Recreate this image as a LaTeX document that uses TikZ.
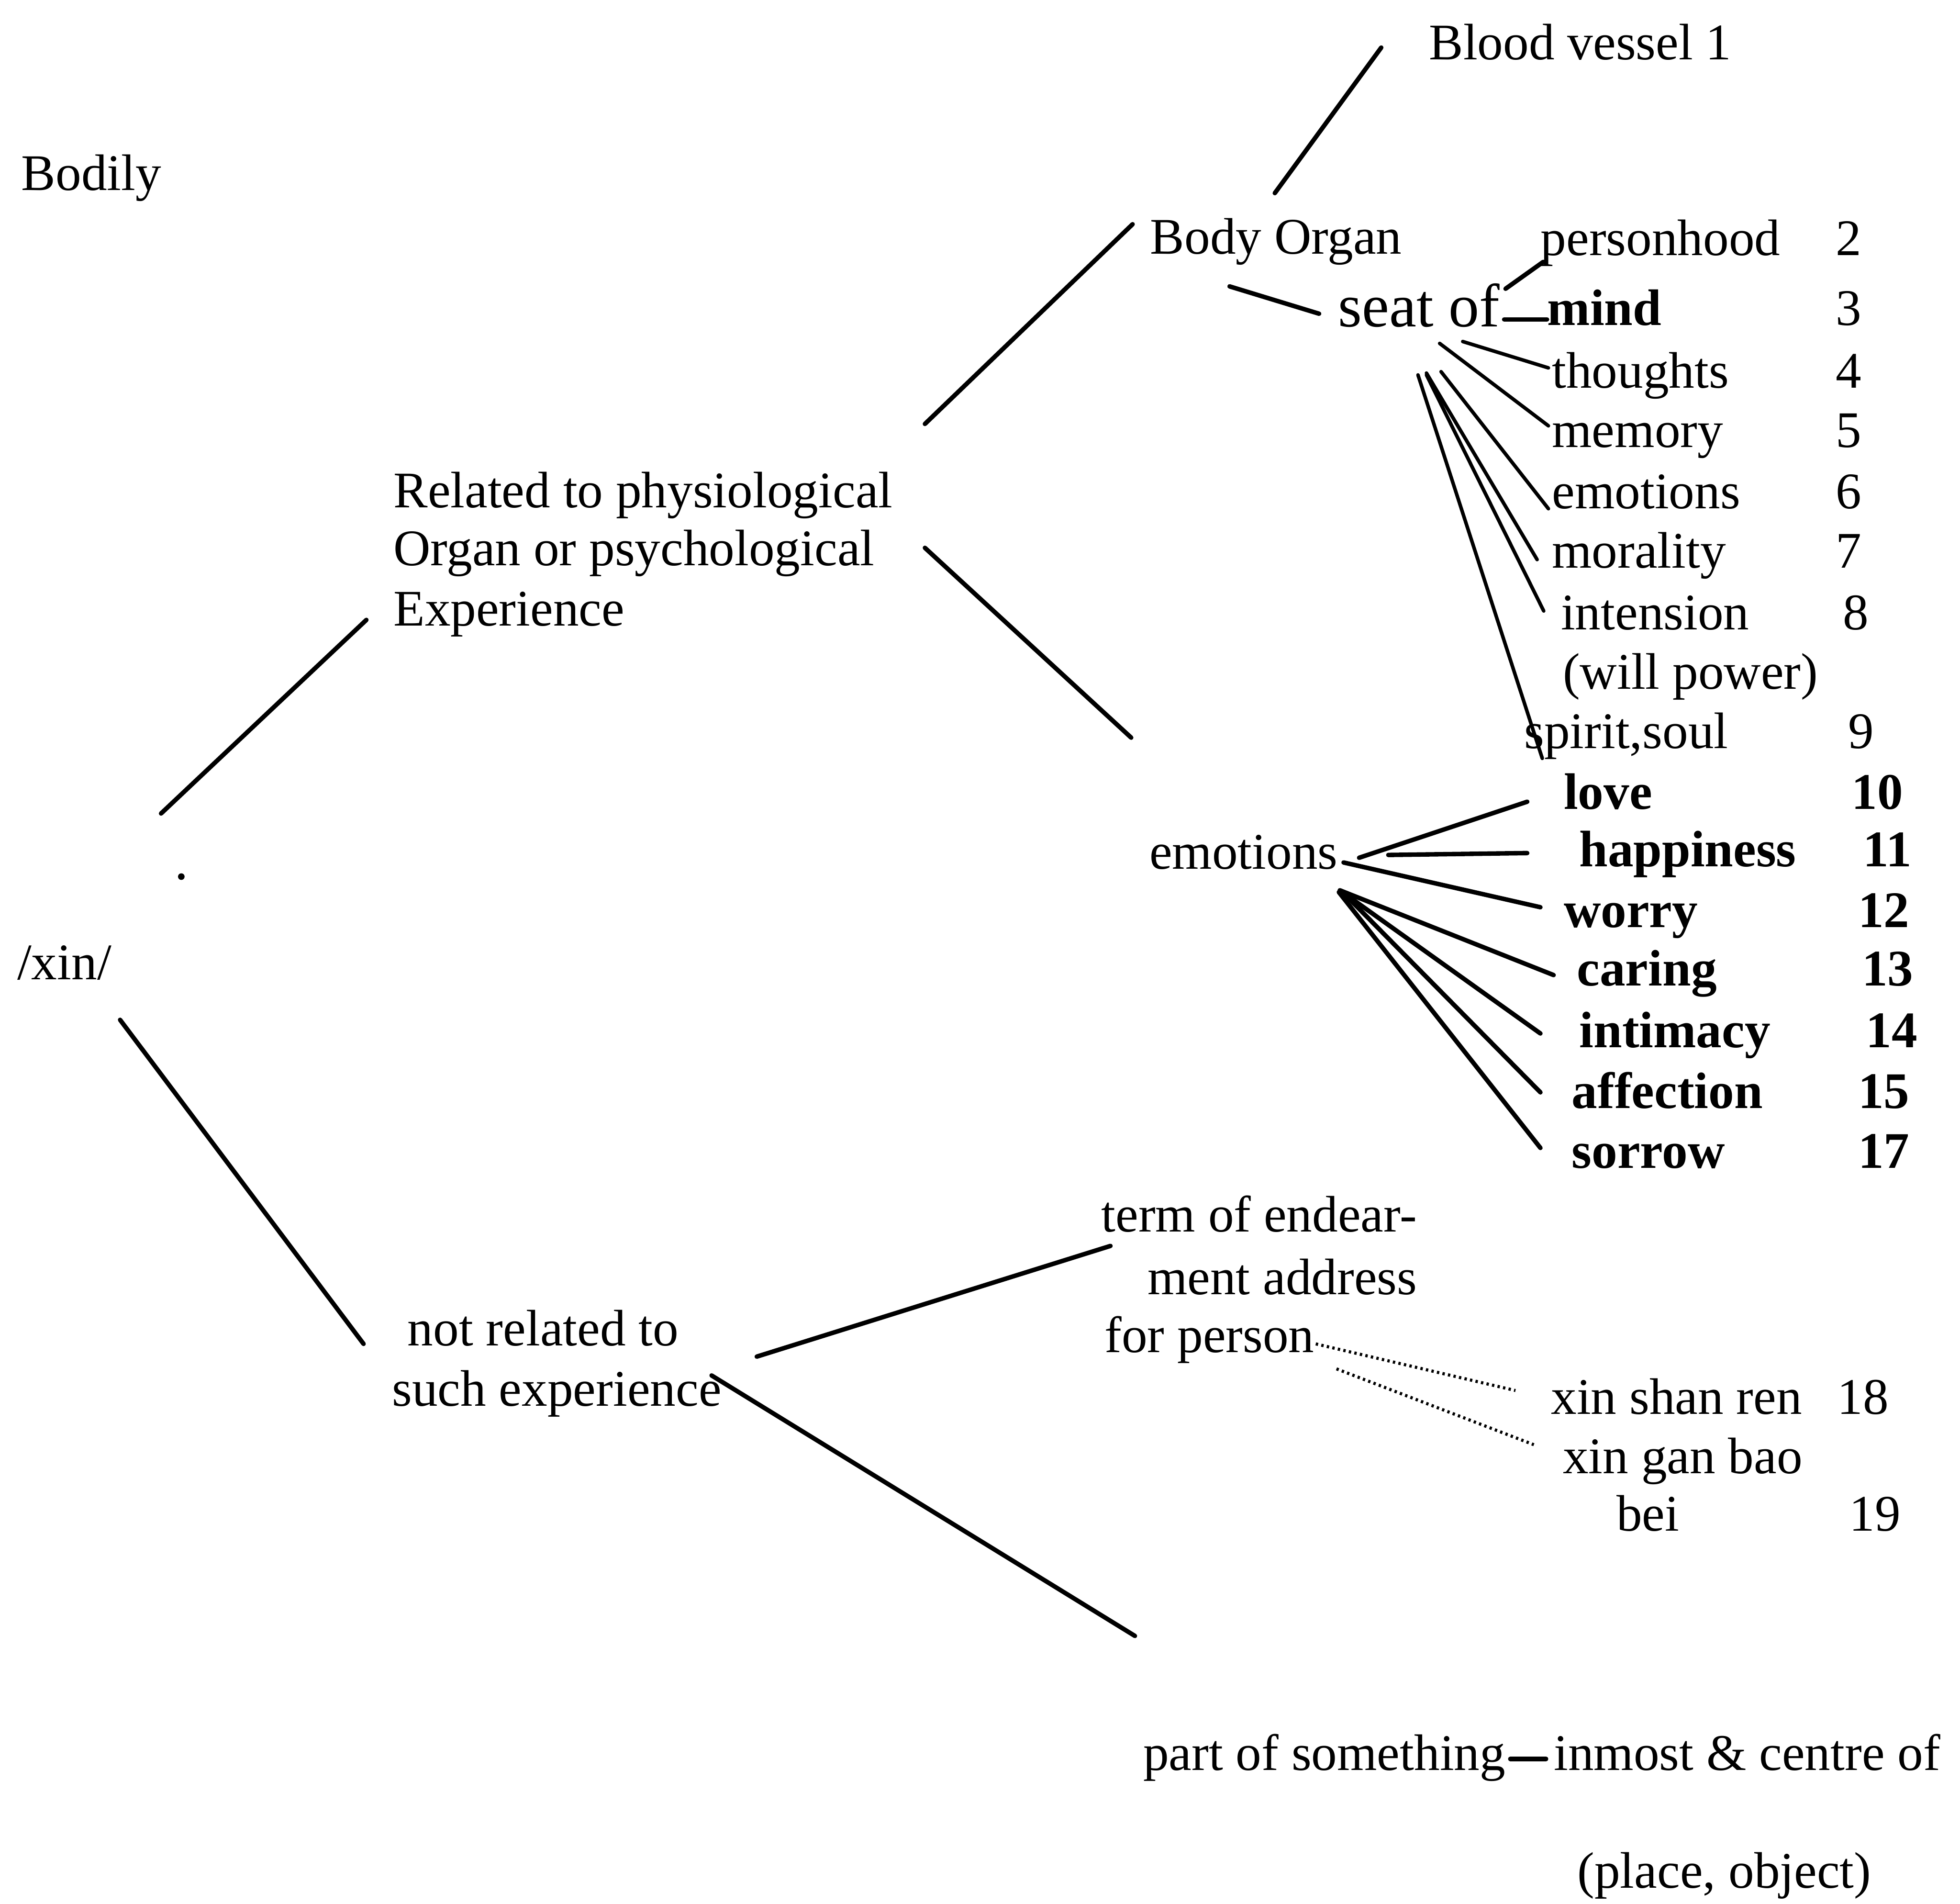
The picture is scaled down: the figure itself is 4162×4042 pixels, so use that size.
\documentclass[tikz,border=0pt]{standalone}
\usepackage{fontspec}
\setmainfont{Liberation Serif}
\begin{document}
\begin{tikzpicture}[x=0.01cm, y=-0.01cm,
  txt/.style={anchor=base west, inner sep=0pt, font=\fontsize{31}{36}\selectfont},
  btxt/.style={anchor=base west, inner sep=0pt, font=\fontsize{31}{36}\selectfont\bfseries},
  bigtxt/.style={anchor=base west, inner sep=0pt, font=\fontsize{37}{42}\selectfont},
  conn/.style={line width=0.095cm, line cap=round},
  fanconn/.style={line width=0.075cm, line cap=round},
  dotconn/.style={line width=0.065cm, dash pattern=on 0.05cm off 0.07cm}]
\useasboundingbox (0,0) rectangle (4162,4042);

% ---- text ----
\node[txt] (bv) at (3034,126) {Blood vessel 1};
\node[txt] (bodily) at (45,404) {Bodily};
\node[txt] (bo) at (2442,539) {Body Organ};
\node[txt] (ph) at (3271,542) {personhood};
\node[txt] (n2) at (3898,542) {2};
\node[bigtxt] (seat) at (2841,693) {seat of};
\node[btxt] (mind) at (3285,690) {mind};
\node[txt] (n3) at (3898,690) {3};
\node[txt] (thoughts) at (3295,824) {thoughts};
\node[txt] (n4) at (3898,824) {4};
\node[txt] (memory) at (3295,950) {memory};
\node[txt] (n5) at (3898,950) {5};
\node[txt] (emosix) at (3295,1080) {emotions};
\node[txt] (n6) at (3898,1080) {6};
\node[txt] (morality) at (3295,1206) {morality};
\node[txt] (n7) at (3898,1206) {7};
\node[txt] (intension) at (3314,1337) {intension};
\node[txt] (n8) at (3913,1337) {8};
\node[txt] (willpower) at (3318,1463) {(will power)};
\node[txt] (spirit) at (3236,1589) {spirit,soul};
\node[txt] (n9) at (3924,1589) {9};

\node[btxt] (love) at (3320,1718) {love};
\node[btxt] (n10) at (3931,1718) {10};
\node[btxt] (happiness) at (3353,1840) {happiness};
\node[btxt] (n11) at (3956,1840) {11};
\node[btxt] (worry) at (3320,1969) {worry};
\node[btxt] (n12) at (3945,1969) {12};
\node[btxt] (caring) at (3348,2093) {caring};
\node[btxt] (n13) at (3953,2093) {13};
\node[btxt] (intimacy) at (3353,2224) {intimacy};
\node[btxt] (n14) at (3962,2224) {14};
\node[btxt] (affection) at (3337,2353) {affection};
\node[btxt] (n15) at (3945,2353) {15};
\node[btxt] (sorrow) at (3337,2480) {sorrow};
\node[btxt] (n17) at (3945,2480) {17};

\node[txt] (relA) at (835,1078) {Related to physiological};
\node[txt] (relB) at (835,1201) {Organ or psychological};
\node[txt] (relC) at (835,1329) {Experience};
\node[txt] (emo) at (2440,1845) {emotions};
\node[txt] (xin) at (36,2079) {/xin/};

\node[txt] (termA) at (2338,2615) {term of endear-};
\node[txt] (termB) at (2436,2748) {ment address};
\node[txt] (termC) at (2345,2871) {for person};
\node[txt] (notA) at (865,2857) {not related to};
\node[txt] (notB) at (832,2985) {such experience};

\node[txt] (xsr) at (3293,3002) {xin shan ren};
\node[txt] (n18) at (3901,3002) {18};
\node[txt] (xgb) at (3318,3128) {xin gan bao};
\node[txt] (bei) at (3432,3250) {bei};
\node[txt] (n19) at (3926,3250) {19};

\node[txt] (part) at (2427,3758) {part of something};
\node[txt] (inmost) at (3299,3758) {inmost \& centre of};
\node[txt] (place) at (3349,4008) {(place, object)};

% stray dot below the upper branch
\fill (385,1861) circle (7);

% ---- connector end points ----
\coordinate (boU) at (2707,410);   \coordinate (bvL) at (2933,101);
\coordinate (relU) at (1964,900);  \coordinate (boL) at (2405,476);
\coordinate (relD) at (1964,1163); \coordinate (emoT) at (2402,1566);
\coordinate (xinU) at (342,1727);  \coordinate (relL) at (778,1316);
\coordinate (xinD) at (255,2165);  \coordinate (notT) at (772,2853);
\coordinate (notR) at (1607,2880); \coordinate (termL) at (2358,2645);
\coordinate (notRD) at (1511,2920);\coordinate (partT) at (2410,3473);

\coordinate (boD) at (2611,608);   \coordinate (seatL) at (2801,666);
\coordinate (seatP) at (3197,613); \coordinate (phL) at (3277,556);
\coordinate (seatM) at (3194,678); \coordinate (mindL) at (3285,678);
\coordinate (seatT) at (3106,725); \coordinate (thoughtsL) at (3288,781);
\coordinate (seatMe) at (3057,729);\coordinate (memoryL) at (3288,904);
\coordinate (seatE) at (3060,789); \coordinate (emosixL) at (3288,1080);
\coordinate (seatMo) at (3029,792);\coordinate (moralityL) at (3264,1188);
\coordinate (seatI) at (3029,796); \coordinate (intensionL) at (3278,1297);
\coordinate (seatS) at (3011,796); \coordinate (spiritL) at (3275,1610);

\coordinate (emoA) at (2886,1821); \coordinate (loveL) at (3243,1702);
\coordinate (emoB) at (2948,1815); \coordinate (happinessL) at (3243,1811);
\coordinate (emoC) at (2853,1831); \coordinate (worryL) at (3271,1926);
\coordinate (emoD) at (2845,1890); \coordinate (caringL) at (3299,2070);
\coordinate (emoE) at (2848,1892); \coordinate (intimacyL) at (3271,2194);
\coordinate (emoF) at (2852,1895); \coordinate (affectionL) at (3271,2319);
\coordinate (emoG) at (2843,1894); \coordinate (sorrowL) at (3271,2437);

\coordinate (fpA) at (2794,2853);  \coordinate (xsrL) at (3218,2952);
\coordinate (fpB) at (2838,2906);  \coordinate (xgbL) at (3257,3067);
\coordinate (partR) at (3207,3734);\coordinate (inmostL) at (3283,3734);

% ---- main branches ----
\draw[conn] (xinU) -- (relL);
\draw[conn] (xinD) -- (notT);
\draw[conn] (relU) -- (boL);
\draw[conn] (relD) -- (emoT);
\draw[conn] (boU) -- (bvL);
\draw[conn] (notR) -- (termL);
\draw[conn] (notRD) -- (partT);
\draw[conn] (boD) -- (seatL);

% ---- seat of ... ----
\draw[conn] (seatP) -- (phL);
\draw[conn] (seatM) -- (mindL);
\draw[fanconn] (seatT) -- (thoughtsL);
\draw[fanconn] (seatMe) -- (memoryL);
\draw[fanconn] (seatE) -- (emosixL);
\draw[fanconn] (seatMo) -- (moralityL);
\draw[fanconn] (seatI) -- (intensionL);
\draw[fanconn] (seatS) -- (spiritL);

% ---- emotions ----
\draw[conn] (emoA) -- (loveL);
\draw[conn] (emoB) -- (happinessL);
\draw[conn] (emoC) -- (worryL);
\draw[conn] (emoD) -- (caringL);
\draw[conn] (emoE) -- (intimacyL);
\draw[conn] (emoF) -- (affectionL);
\draw[conn] (emoG) -- (sorrowL);

% ---- terms of endearment ----
\draw[dotconn] (fpA) -- (xsrL);
\draw[dotconn] (fpB) -- (xgbL);

% ---- part of something ----
\draw[conn] (partR) -- (inmostL);
\end{tikzpicture}
\end{document}
